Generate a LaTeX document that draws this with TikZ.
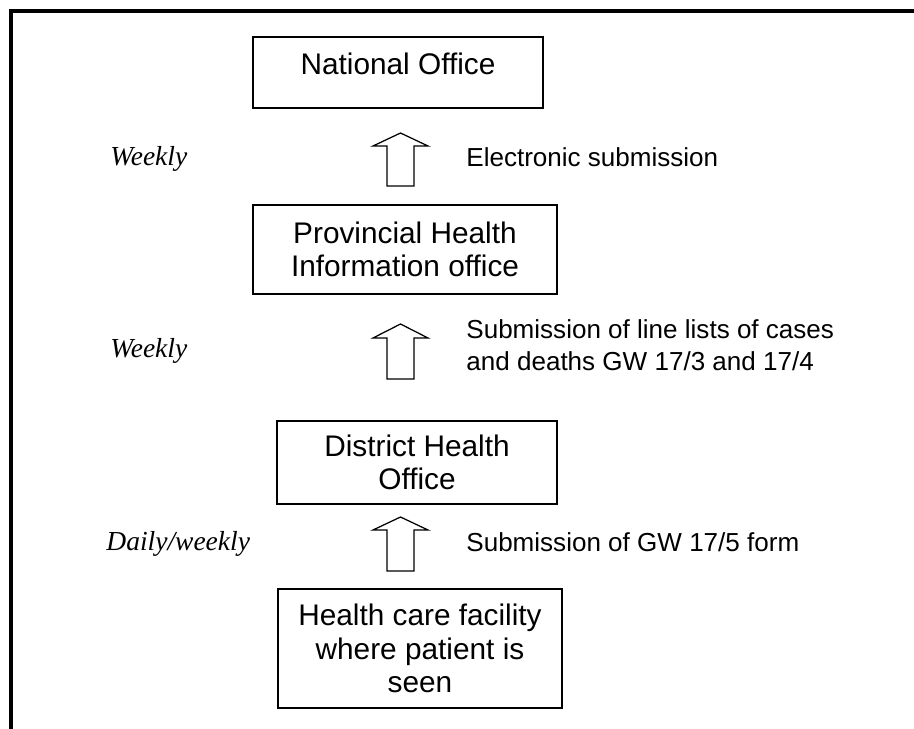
\documentclass[tikz,border=0pt]{standalone}
\usepackage{fontspec}
\setmainfont{Liberation Sans}
\newfontfamily\timesfont{Liberation Serif}

\begin{document}
\begin{tikzpicture}[x=0.48pt, y=-0.48pt,
    box/.style={draw, line width=1pt, align=center, inner sep=0pt,
        font=\fontsize{14.3}{16}\selectfont},
    note/.style={inner sep=0pt, align=left, font=\fontsize{12.5}{15.4}\selectfont},
    freq/.style={anchor=base west, inner sep=0pt, font=\timesfont\itshape\fontsize{13.2}{15}\selectfont},
    blockarrow/.style={draw, line width=0.6pt, line join=miter}]
    \useasboundingbox (0,0) rectangle (914,729);

    % Frame (top and left only)
    \draw[line width=1.7pt] (11,729) -- (11,11) -- (914,11);

    % Boxes
    \node[box, minimum width=139.2pt, minimum height=34.1pt, text depth=8.8pt] (national) at (398,72.5) {National Office};
    \node[box, minimum width=145.9pt, minimum height=42.7pt] (provincial) at (405,249.5) {Provincial Health\\Information office};
    \node[box, minimum width=134.4pt, minimum height=39.8pt] (district) at (417,462.5) {District Health\\Office};
    \node[box, minimum width=136.3pt, minimum height=57.1pt] (facility) at (420,648.5) {Health care facility\\where patient is\\seen};

    % Block arrows: bottom / head base / tip
    \foreach \yb/\yh/\yt in {186/146/133, 379/338/324, 571/530/517} {
        \draw[blockarrow] (387,\yb) -- (387,\yh) -- (373,\yh) -- (400.5,\yt)
            -- (428,\yh) -- (414,\yh) -- (414,\yb) -- cycle;
    }

    % Frequencies
    \node[freq] (freq1) at (110,165) {Weekly};
    \node[freq] (freq2) at (110,357) {Weekly};
    \node[freq] (freq3) at (106,550) {Daily/weekly};

    % What is sent
    \node[note, anchor=base west] (send1) at (466,166) {Electronic submission};
    \node[note, anchor=west] (send2) at (466,345) {Submission of line lists of cases\\and deaths GW 17/3 and 17/4};
    \node[note, anchor=base west] (send3) at (466,551) {Submission of GW 17/5 form};
\end{tikzpicture}
\end{document}
